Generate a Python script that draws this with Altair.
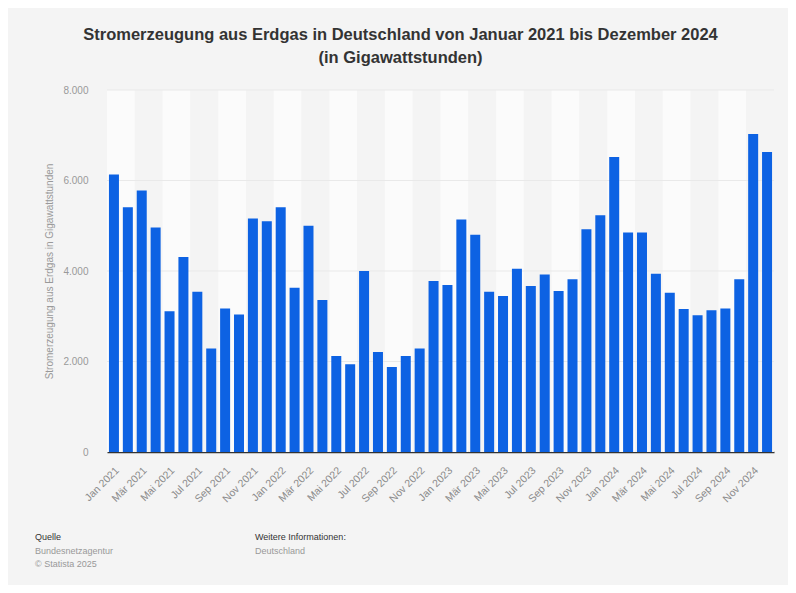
import altair as alt
import pandas as pd

# ---- data ----
month_abbr = ["Jan", "Feb", "Mär", "Apr", "Mai", "Jun", "Jul", "Aug", "Sep", "Okt", "Nov", "Dez"]
years = [2021, 2022, 2023, 2024]
values = [6130, 5410, 5780, 4960, 3110, 4310, 3540, 2290, 3170, 3040, 5160, 5100,
          5410, 3630, 5000, 3360, 2120, 1940, 4000, 2210, 1880, 2120, 2290, 3780,
          3690, 5140, 4800, 3540, 3450, 4050, 3670, 3920, 3560, 3820, 4920, 5230,
          6520, 4850, 4850, 3940, 3520, 3160, 3020, 3130, 3170, 3820, 7030, 6630]
y_ticks = [0, 2000, 4000, 6000, 8000]

title_lines = ["Stromerzeugung aus Erdgas in Deutschland von Januar 2021 bis Dezember 2024",
               "(in Gigawattstunden)"]
y_title = "Stromerzeugung aus Erdgas in Gigawattstunden"
source_head = "Quelle"
source_lines = ["Bundesnetzagentur", "© Statista 2025"]
info_head = "Weitere Informationen:"
info_lines = ["Deutschland"]

labels = [f"{m} {y}" for y in years for m in month_abbr]
df = pd.DataFrame({"month": labels, "value": values})
pairs = [f"p{i}" for i in range(len(labels) // 2)]
bg = pd.DataFrame({"pair": pairs, "shade": [i % 2 for i in range(len(pairs))]})
grid_df = pd.DataFrame({"value": y_ticks[1:]})

W, H = 667, 362
FONT = "Liberation Sans"

background = alt.Chart(bg).mark_rect().encode(
    x=alt.X("pair:N", sort=None, axis=None,
            scale=alt.Scale(paddingInner=0, paddingOuter=0)),
    y=alt.value(0),
    y2=alt.value(H),
    color=alt.Color("shade:N", legend=None,
                    scale=alt.Scale(domain=[0, 1], range=["#fbfbfb", "#f4f4f4"])),
)

grid = alt.Chart(grid_df).mark_rule(color="#e9e9e9", strokeWidth=1).encode(
    y=alt.Y("value:Q", scale=alt.Scale(domain=[0, 8000], nice=False)),
    x=alt.value(0), x2=alt.value(W),
)

bars = alt.Chart(df).mark_bar(color="#0d62e3").encode(
    x=alt.X("month:N", sort=labels, title=None,
            scale=alt.Scale(paddingInner=0.28, paddingOuter=0.14),
            axis=alt.Axis(values=labels[::2], labelAngle=-45, labelFont=FONT,
                          labelFontSize=10.5, labelColor="#8a8a8a", ticks=False,
                          labelPadding=13, domainColor="#333333", domainWidth=1.5,
                          grid=False)),
    y=alt.Y("value:Q", title=y_title,
            scale=alt.Scale(domain=[0, 8000], nice=False),
            axis=alt.Axis(values=y_ticks, ticks=False, domain=False, grid=False,
                          labelExpr="replace(format(datum.value, ','), ',', '.')",
                          labelFont=FONT, labelFontSize=10, labelColor="#999999",
                          labelPadding=19, titleFont=FONT, titleFontSize=10,
                          titleFontWeight="normal", titleColor="#999999",
                          titlePadding=8)),
)

def text_layer(txt, x, y, color, size=9):
    return alt.Chart(alt.Data(values=[{}])).mark_text(
        align="left", baseline="middle", font=FONT, fontSize=size, color=color
    ).encode(x=alt.value(x), y=alt.value(y), text=alt.value(txt))

foot = [text_layer(source_head, -72, 447, "#333333")]
for i, t in enumerate(source_lines):
    foot.append(text_layer(t, -72, 461 + 13 * i, "#999999"))
foot.append(text_layer(info_head, 148, 447, "#333333"))
for i, t in enumerate(info_lines):
    foot.append(text_layer(t, 148, 461 + 13 * i, "#999999"))

chart = alt.layer(background, grid, bars, *foot).resolve_scale(
    x="independent", color="independent"
).properties(
    width=W, height=H,
    autosize=alt.AutoSizeParams(type="none"),
    padding={"left": 99, "top": 82, "right": 14, "bottom": 133},
    background="#f4f4f4",
    title=alt.TitleParams(text=title_lines, anchor="middle", dx=-40, offset=19,
                          font=FONT, fontSize=16.5, fontWeight="bold",
                          color="#333333", lineHeight=23),
).configure_view(stroke=None)

chart.save("out.html", embed_options={"renderer": "svg", "actions": False})
